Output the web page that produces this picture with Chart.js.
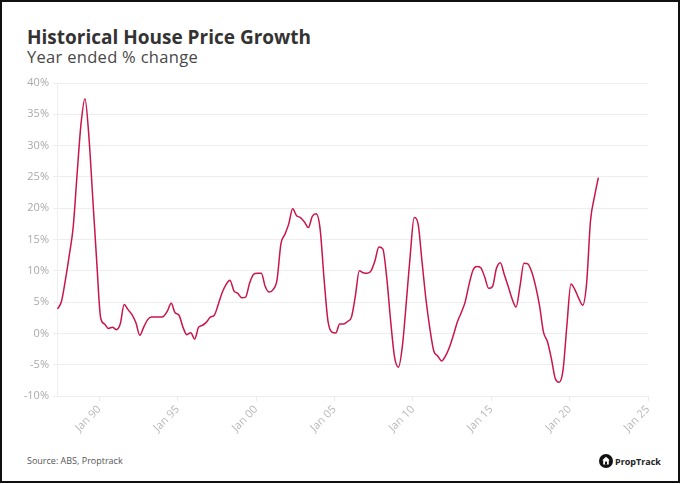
<!DOCTYPE html>
<html>
<head>
<meta charset="utf-8">
<script src="https://cdn.jsdelivr.net/npm/chart.js@4"></script>
<style>
  html, body { margin: 0; padding: 0; background: #fff; }
  body { width: 681px; height: 484px; position: relative; overflow: hidden; font-family: "Open Sans", sans-serif; }
  #frame { position: absolute; left: 0; top: 0; width: 680px; height: 483px; box-sizing: border-box; border: 2px solid #111; }
  #title { position: absolute; left: 27px; top: 24px; font-size: 19px; font-weight: 700; color: #333; white-space: nowrap; }
  #subtitle { position: absolute; left: 27px; top: 45px; font-size: 16.5px; font-weight: 400; color: #484848; letter-spacing: 0.3px; white-space: nowrap; }
  #source { position: absolute; left: 27px; top: 454px; font-size: 9px; color: #555; white-space: nowrap; }
  #logo { position: absolute; left: 599px; top: 453px; height: 16px; display: flex; align-items: center; white-space: nowrap; }
  #logo span { font-size: 9px; font-weight: 700; color: #222; margin-left: 2px; }
  #wrap { position: absolute; left: 0; top: 72px; width: 672px; height: 372px; }
</style>
</head>
<body>
<div id="frame"></div>
<div id="title">Historical House Price Growth</div>
<div id="subtitle">Year ended % change</div>
<div id="wrap"><canvas id="c" width="672" height="372"></canvas></div>
<div id="source">Source: ABS, Proptrack</div>
<div id="logo">
  <svg width="14" height="14" viewBox="0 0 14 14"><circle cx="7" cy="7" r="7" fill="#111"/><path d="M7 2.8 L10.8 6.3 L9.8 6.3 L9.8 10.6 L4.2 10.6 L4.2 6.3 L3.2 6.3 Z" fill="#fff"/><rect x="6" y="7.6" width="2" height="3" fill="#111"/></svg>
  <span>PropTrack</span>
</div>
<script>
// Quarterly observations, first point May 1987, one every 3 months
const startYear = 1987;
const startMonth = 5;
const stepMonths = 3;
const values = [
  3.9, 5.1, 8.5, 12.5, 17.0, 25.5, 33.5, 37.5, 31.5, 21.5,
  11.5, 2.5, 1.5, 0.8, 1.0, 0.6, 1.5, 4.6, 3.8, 3.0,
  1.7, -0.3, 1.0, 2.2, 2.6, 2.6, 2.6, 2.7, 3.5, 4.8,
  3.3, 2.9, 1.0, -0.2, 0.1, -0.9, 1.0, 1.3, 1.8, 2.6,
  2.9, 4.6, 6.5, 7.8, 8.5, 6.8, 6.4, 5.7, 5.8, 8.0,
  9.4, 9.6, 9.6, 7.5, 6.6, 7.0, 8.5, 14.3, 15.8, 17.5,
  19.9, 18.8, 18.5, 17.8, 16.9, 18.7, 19.1, 16.7, 8.8, 2.0,
  0.2, 0.05, 1.5, 1.5, 1.9, 2.6, 6.0, 10.0, 9.7, 9.6,
  10.0, 11.6, 13.8, 13.5, 8.9, 2.0, -3.8, -5.4, -2.0, 5.0,
  12.5, 18.5, 17.5, 11.5, 5.5, 0.8, -2.8, -3.6, -4.4, -3.6,
  -2.2, -0.3, 1.8, 3.3, 5.0, 7.8, 10.1, 10.7, 10.5, 9.0,
  7.2, 7.5, 10.4, 11.3, 9.4, 7.5, 5.5, 4.2, 7.5, 11.2,
  11.1, 9.8, 7.5, 4.4, 0.2, -1.3, -4.0, -7.2, -7.8, -5.8,
  1.5, 7.9, 7.0, 5.6, 4.5, 8.0, 18.0, 21.8, 24.9
];
const xTicks = [1990, 1995, 2000, 2005, 2010, 2015, 2020, 2025];
const yTicks = [-10, -5, 0, 5, 10, 15, 20, 25, 30, 35, 40];

const dates = values.map((_, i) => startYear + (startMonth - 1 + i * stepMonths) / 12);
const points = values.map((v, i) => ({ x: dates[i], y: v }));

Chart.defaults.font.family = '"Open Sans", sans-serif';

new Chart(document.getElementById('c'), {
  type: 'line',
  data: {
    datasets: [{
      data: points,
      borderColor: '#c8164a',
      borderWidth: 1.5,
      pointRadius: 0,
      fill: false,
      cubicInterpolationMode: 'monotone'
    }]
  },
  options: {
    responsive: false,
    animation: false,
    devicePixelRatio: 1,
    layout: { padding: { top: 11, bottom: 4, left: 0, right: 24 } },
    plugins: { legend: { display: false }, tooltip: { enabled: false } },
    scales: {
      x: {
        type: 'linear',
        min: 1987.3,
        max: 2025,
        afterBuildTicks: (s) => { s.ticks = xTicks.map(v => ({ value: v })); },
        afterFit: (s) => { s.height = 44; },
        ticks: {
          minRotation: 45, maxRotation: 45,
          color: '#b8b8b8',
          font: { size: 11 },
          padding: 2,
          callback: (v) => 'Jan ' + String(v % 100).padStart(2, '0')
        },
        grid: { drawOnChartArea: false, drawTicks: true, tickLength: 5, color: '#ececec' },
        border: { color: '#ececec' }
      },
      y: {
        min: -10,
        max: 40,
        afterBuildTicks: (s) => { s.ticks = yTicks.map(v => ({ value: v })); },
        afterFit: (s) => { s.width = 57; },
        ticks: {
          color: '#aaaaaa',
          font: { size: 11 },
          padding: 4,
          callback: (v) => v + '%'
        },
        grid: { color: '#eeeeee', tickLength: 4 },
        border: { color: '#eeeeee' }
      }
    }
  }
});
</script>
</body>
</html>
